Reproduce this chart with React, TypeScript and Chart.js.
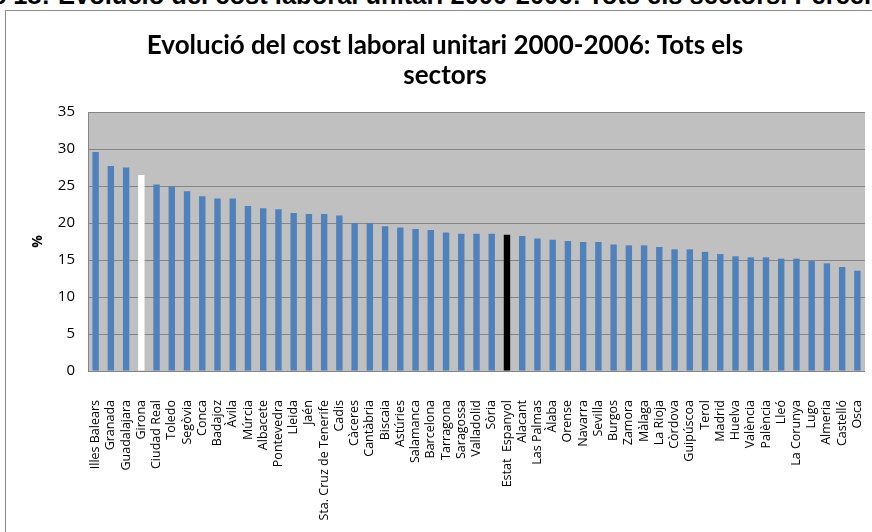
import React, { useEffect, useRef } from "react";
import { Chart, registerables } from "chart.js";

Chart.register(...registerables);

const headerPrefix = "Gràfic 18:";
const headerText = "Evolució del cost laboral unitari 2000-2006: Tots els sectors. Percentatge";
const titleLines = ["Evolució del cost laboral unitari 2000-2006: Tots els", "sectors"];
const yAxisLabel = "%";

const categories = [
  "Illes Balears", "Granada", "Guadalajara", "Girona", "Ciudad Real", "Toledo", "Segòvia", "Conca",
  "Badajoz", "Àvila", "Múrcia", "Albacete", "Pontevedra", "Lleida", "Jaén", "Sta. Cruz de Tenerife",
  "Cadis", "Càceres", "Cantàbria", "Biscaia", "Astúries", "Salamanca", "Barcelona", "Tarragona",
  "Saragossa", "Valladolid", "Sòria", "Estat  Espanyol", "Alacant", "Las Palmas", "Àlaba", "Orense",
  "Navarra", "Sevilla", "Burgos", "Zamora", "Màlaga", "La Rioja", "Còrdova", "Guipúscoa", "Terol",
  "Madrid", "Huelva", "València", "Palència", "Lleó", "La Corunya", "Lugo", "Almeria", "Castelló", "Osca",
];

const values = [
  29.6, 27.7, 27.5, 26.5, 25.2, 24.9, 24.3, 23.6,
  23.3, 23.3, 22.3, 22.0, 21.85, 21.35, 21.2, 21.2,
  21.0, 20.0, 19.95, 19.55, 19.4, 19.2, 19.05, 18.7,
  18.55, 18.55, 18.55, 18.4, 18.25, 17.9, 17.75, 17.57,
  17.43, 17.43, 17.1, 16.98, 16.98, 16.76, 16.44, 16.44, 16.1,
  15.8, 15.5, 15.36, 15.36, 15.18, 15.18, 14.86, 14.55, 14.05, 13.55,
];

const whiteCategory = "Girona";
const blackCategory = "Estat  Espanyol";

const yMin = 0;
const yMax = 35;
const yStep = 5;

const BLUE = "#4F81BD";

const plotBg = {
  id: "plotBg",
  beforeDraw(chart: any) {
    const { ctx, chartArea } = chart;
    if (!chartArea) return;
    ctx.save();
    ctx.fillStyle = "#C0C0C0";
    ctx.fillRect(chartArea.left, chartArea.top, chartArea.right - chartArea.left, chartArea.bottom - chartArea.top);
    ctx.restore();
  },
};

export default function App() {
  const canvasRef = useRef<HTMLCanvasElement | null>(null);

  useEffect(() => {
    if (!canvasRef.current) return;
    const colors = categories.map((c) =>
      c === whiteCategory ? "#FFFFFF" : c === blackCategory ? "#000000" : BLUE
    );
    const chart = new Chart(canvasRef.current, {
      type: "bar",
      data: {
        labels: categories,
        datasets: [
          {
            data: values,
            backgroundColor: colors,
            borderWidth: 0,
            barPercentage: 0.42,
            categoryPercentage: 1,
          },
        ],
      },
      options: {
        animation: false,
        responsive: false,
        maintainAspectRatio: false,
        layout: { padding: { left: 25, right: 7, top: 0, bottom: 0 } },
        plugins: {
          legend: { display: false },
          tooltip: { enabled: false },
          title: {
            display: true,
            text: titleLines,
            color: "#000",
            font: { family: "Lato", size: 26, weight: "bold", lineHeight: 30 / 26 },
            padding: { top: 31, bottom: 21 },
          },
        },
        scales: {
          x: {
            grid: { display: false },
            border: { display: false },
            ticks: {
              autoSkip: false,
              maxRotation: 90,
              minRotation: 90,
              padding: 21,
              color: "#000",
              font: { family: "Open Sans", size: 12.5 },
            },
            afterFit: (s: any) => {
              s.height = 161;
              s.paddingLeft = 0;
              s.paddingRight = 0;
            },
          },
          y: {
            min: yMin,
            max: yMax,
            ticks: {
              stepSize: yStep,
              padding: 13,
              color: "#000",
              font: { family: "Open Sans", size: 15 },
            },
            grid: { color: "#858585", drawTicks: false, lineWidth: 1 },
            border: { color: "#858585" },
            title: {
              display: true,
              text: yAxisLabel,
              color: "#000",
              font: { family: "Open Sans", size: 14, weight: "bold" },
              padding: { top: 5, bottom: 0 },
            },
            afterFit: (s: any) => {
              s.width = 63;
            },
          },
        },
      } as any,
      plugins: [plotBg],
    });
    return () => chart.destroy();
  }, []);

  const headerFont = "bold 25.5px 'Liberation Sans', Arial, sans-serif";

  return (
    <div
      style={{
        position: "fixed",
        left: 0,
        top: 0,
        width: 872,
        height: 532,
        overflow: "hidden",
        background: "#fff",
      }}
    >
      <div
        style={{
          position: "absolute",
          right: 872 - 50,
          top: -18,
          whiteSpace: "nowrap",
          font: headerFont,
          lineHeight: "26px",
          color: "#000",
        }}
      >
        {headerPrefix}
      </div>
      <div
        style={{
          position: "absolute",
          left: 58,
          top: -18,
          whiteSpace: "nowrap",
          font: headerFont,
          lineHeight: "26px",
          color: "#000",
        }}
      >
        {headerText}
      </div>
      <div
        style={{
          position: "absolute",
          left: 5,
          top: 10,
          width: 900,
          height: 600,
          border: "1px solid #8c8c8c",
          boxSizing: "border-box",
        }}
      />
      <canvas
        ref={canvasRef}
        width={872}
        height={532}
        style={{ position: "absolute", left: 0, top: 0, width: 872, height: 532 }}
      />
    </div>
  );
}
